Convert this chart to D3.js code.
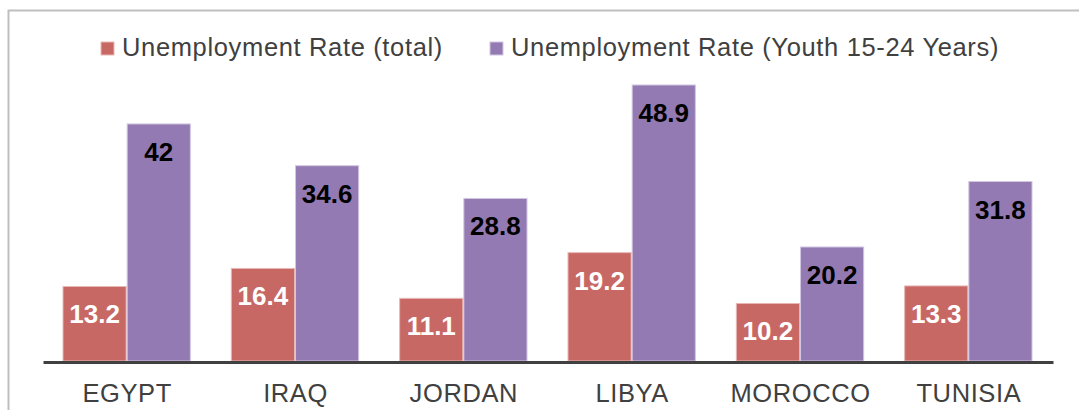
<!DOCTYPE html>
<html><head><meta charset="utf-8">
<script src="https://cdn.jsdelivr.net/npm/d3@7"></script>
<style>body{margin:0;background:#fff}svg{display:block;font-family:"Liberation Sans",Arial,sans-serif}</style>
</head><body>
<svg id="c" width="1079" height="410"></svg>
<script>
const categories = ["EGYPT","IRAQ","JORDAN","LIBYA","MOROCCO","TUNISIA"];
const seriesNames = ["Unemployment Rate (total)","Unemployment Rate (Youth 15-24 Years)"];
const totalRate = [13.2,16.4,11.1,19.2,10.2,13.3];
const youthRate = [42,34.6,28.8,48.9,20.2,31.8];

const colors = ["#C86864","#937AB2"];
const strokes = ["#E8B8B6","#D2C6E2"];
const labelColors = ["#fff","#000"];
const svg = d3.select("#c");
const W=1079,H=410;
const m={left:43,right:26,top:20,bottom:49};
const baseY = H-m.bottom; // 361

// frame
svg.append("path").attr("d","M8.5,410 L8.5,10.5 L1079,10.5").attr("fill","none").attr("stroke","#BFBFBF").attr("stroke-width",2);

const x0 = d3.scaleBand().domain(categories).range([m.left, W-m.right]).paddingInner(0).paddingOuter(0);
const x1 = d3.scaleBand().domain([0,1]).range([20, x0.bandwidth()-21]).paddingInner(0.016).paddingOuter(0);
const y = d3.scaleLinear().domain([0,48.9]).range([baseY, 85]);

const data = [totalRate, youthRate];
data.forEach((vals,s)=>{
  const g = svg.append("g");
  g.selectAll("rect").data(vals).join("rect")
    .attr("x",(d,i)=>x0(categories[i])+x1(s))
    .attr("y",d=>y(d))
    .attr("width",x1.bandwidth())
    .attr("height",d=>baseY-y(d))
    .attr("fill",colors[s]).attr("stroke",strokes[s]).attr("stroke-width",1);
  g.selectAll("text").data(vals).join("text")
    .attr("x",(d,i)=>x0(categories[i])+x1(s)+x1.bandwidth()/2)
    .attr("y",d=>y(d)+37)
    .attr("text-anchor","middle")
    .attr("font-size",26).attr("font-weight","bold")
    .attr("fill",labelColors[s])
    .text(d=>d);
});

// axis
const ax = svg.append("g").attr("transform",`translate(0,${baseY+1})`)
  .call(d3.axisBottom(x0).tickSize(0).tickPadding(22));
ax.select(".domain").attr("stroke","#404040").attr("stroke-width",3);
ax.selectAll("text").attr("font-size",25.5).attr("letter-spacing","0.6px").attr("fill","#404040").attr("font-family","Liberation Sans, Arial, sans-serif");

// legend
const legendX=[101,490];
seriesNames.forEach((n,i)=>{
  svg.append("rect").attr("x",legendX[i]).attr("y",42).attr("width",13).attr("height",13)
    .attr("fill",colors[i]).attr("stroke",strokes[i]);
  svg.append("text").attr("x",legendX[i]+21).attr("y",56).attr("font-size",25.5).attr("letter-spacing","0.65px").attr("fill","#404040").text(n);
});
</script>
</body></html>
